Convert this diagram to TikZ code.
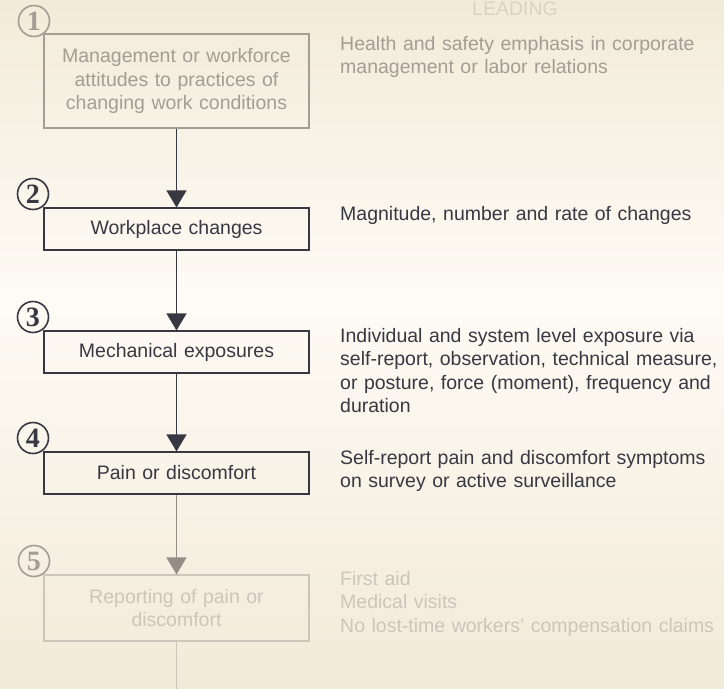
\documentclass[tikz,border=0pt]{standalone}
\usepackage{fontspec}
\setmainfont{Liberation Sans}
\newfontfamily\numfont{Liberation Serif}
\usetikzlibrary{arrows.meta}
\definecolor{bgtop}{HTML}{F2EBD9}
\definecolor{bgmid}{HTML}{FEFBF5}
\definecolor{bgbot}{HTML}{F2EAD8}
\definecolor{ink}{HTML}{383842}
\definecolor{fadeA}{HTML}{A39D94}
\definecolor{fadeB}{HTML}{CBC5BA}
\definecolor{fadeC}{HTML}{DAD3C3}
\begin{document}
\begin{tikzpicture}[x=1pt,y=-1pt]
    \tikzstyle{every node}=[font=\fontsize{19.5}{23.5}\selectfont]
    \tikzstyle{stage}=[draw=ink,line width=1.1pt,text=ink,align=center,
        minimum width=265pt,text width=255pt,inner sep=0pt]
    \tikzstyle{note}=[anchor=base west,align=left,text width=380pt,inner sep=0pt,text=ink]
    \tikzstyle{num}=[circle,draw,line width=1.6pt,minimum size=31pt,inner sep=0pt,
        font=\numfont\bfseries\fontsize{28}{28}\selectfont]
    \tikzstyle{flow}=[line width=1.1pt,-{Triangle[width=20pt,length=17pt]}]
    % background
    \useasboundingbox (0,0) rectangle (724,689);
    \shade[top color=bgtop,bottom color=bgmid] (0,0) rectangle (724,300);
    \shade[top color=bgmid,bottom color=bgbot] (0,300) rectangle (724,689);
    \node[text=fadeC,anchor=base] (lead) at (515,15) {LEADING};
    % boxes
    \node[stage,draw=fadeA,text=fadeA,minimum height=94pt] (b1) at (176.5,81) {Management or workforce\\attitudes to practices of\\changing work conditions};
    \node[stage,minimum height=42pt] (b2) at (176.5,229) {Workplace changes};
    \node[stage,minimum height=42pt] (b3) at (176.5,352) {Mechanical exposures};
    \node[stage,minimum height=42pt] (b4) at (176.5,473) {Pain or discomfort};
    \node[stage,draw=fadeB,text=fadeB,minimum height=66pt] (b5) at (176.5,608) {Reporting of pain or\\discomfort};
    % circled numbers
    \node[num,draw=fadeA,text=fadeA] (n1) at (34,21) {1};
    \node[num,draw=ink,text=ink] (n2) at (33,194) {2};
    \node[num,draw=ink,text=ink] (n3) at (33,317) {3};
    \node[num,draw=ink,text=ink] (n4) at (33,438) {4};
    \node[num,draw=fadeA,text=fadeA] (n5) at (34,561) {5};
    % arrows
    \coordinate (bottom) at (176.5,689);
    \draw[flow,draw=ink,fill=ink] (b1) -- (b2);
    \draw[flow,draw=ink,fill=ink] (b2) -- (b3);
    \draw[flow,draw=ink,fill=ink] (b3) -- (b4);
    \draw[flow,draw=fadeA!90!black,fill=fadeA!90!black] (b4) -- (b5);
    \draw[line width=1.1pt,draw=fadeB] (b5) -- (bottom);
    % measures
    \node[note,text=fadeA] (m1) at (340,50) {Health and safety emphasis in corporate\\management or labor relations};
    \node[note] (m2) at (340,220) {Magnitude, number and rate of changes};
    \node[note] (m3) at (340,342) {Individual and system level exposure via\\self-report, observation, technical measure,\\or posture, force (moment), frequency and\\duration};
    \node[note] (m4) at (340,464) {Self-report pain and discomfort symptoms\\on survey or active surveillance};
    \node[note,text=fadeB] (m5) at (340,585) {First aid\\Medical visits\\No lost-time workers’ compensation claims};
\end{tikzpicture}
\end{document}
